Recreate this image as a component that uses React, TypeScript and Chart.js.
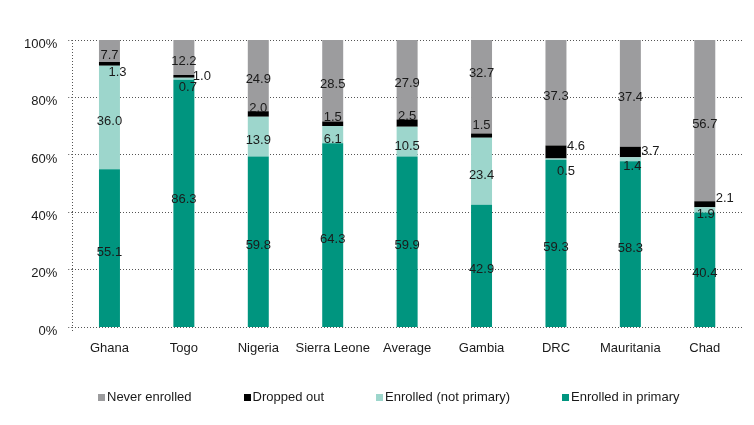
import React, { useEffect, useRef } from "react";
import { Chart, registerables } from "chart.js";

Chart.register(...registerables);

const categories = ["Ghana", "Togo", "Nigeria", "Sierra Leone", "Average", "Gambia", "DRC", "Mauritania", "Chad"];
const enrolledPrimary = [55.1, 86.3, 59.8, 64.3, 59.9, 42.9, 59.3, 58.3, 40.4];
const enrolledNotPrimary = [36.0, 0.7, 13.9, 6.1, 10.5, 23.4, 0.5, 1.4, 1.9];
const droppedOut = [1.3, 1.0, 2.0, 1.5, 2.5, 1.5, 4.6, 3.7, 2.1];
const neverEnrolled = [7.7, 12.2, 24.9, 28.5, 27.9, 32.7, 37.3, 37.4, 56.7];
const yTicks = [0, 20, 40, 60, 80, 100];

const seriesNames = ["Enrolled in primary", "Enrolled (not primary)", "Dropped out", "Never enrolled"];
const seriesColors = ["#00957f", "#9dd6cc", "#000000", "#9c9c9e"];

const FONT = "'Liberation Sans', Arial, Helvetica, sans-serif";
const TEXT = "#1a1a1a";
const GRID = "#555";

// label placement tweaks (dataset index : category index -> [dx, dy])
const labelShift: Record<string, [number, number]> = {
  "2:0": [8, 8],
  "1:1": [4, 9],
  "2:1": [18, 0],
  "0:1": [0, -4],
  "2:2": [0, -6],
  "2:3": [0, -6],
  "1:3": [0, 5],
  "2:4": [0, -7],
  "1:4": [0, 5],
  "3:5": [0, -13],
  "2:5": [0, -10],
  "2:6": [20, -5],
  "1:6": [10, 12],
  "2:7": [20, 0],
  "1:7": [2, 7],
  "2:8": [20, -6],
  "1:8": [1, 5],
};

const series = [enrolledPrimary, enrolledNotPrimary, droppedOut, neverEnrolled];
const totals = categories.map((_, j) => series.reduce((s, arr) => s + arr[j], 0));
const pct = (arr: number[]) => arr.map((v, j) => (v / totals[j]) * 100);

const valueLabels = {
  id: "valueLabels",
  afterDatasetsDraw(chart: any) {
    const ctx = chart.ctx;
    ctx.save();
    ctx.font = `13px ${FONT}`;
    ctx.fillStyle = TEXT;
    ctx.textAlign = "center";
    ctx.textBaseline = "middle";
    chart.data.datasets.forEach((ds: any, i: number) => {
      const meta = chart.getDatasetMeta(i);
      meta.data.forEach((bar: any, j: number) => {
        const raw = ds.rawValues[j];
        const shift = labelShift[`${i}:${j}`] || [0, 4];
        const cy = (bar.y + bar.base) / 2;
        ctx.fillText(raw.toFixed(1), bar.x + shift[0], cy + shift[1]);
      });
    });
    ctx.restore();
  },
};

export default function App() {
  const ref = useRef<HTMLCanvasElement | null>(null);
  useEffect(() => {
    if (!ref.current) return;
    const chart = new Chart(ref.current, {
      type: "bar",
      data: {
        labels: categories,
        datasets: series.map((arr, i) => ({
          label: seriesNames[i],
          data: pct(arr),
          rawValues: arr,
          backgroundColor: seriesColors[i],
        })) as any,
      },
      options: {
        responsive: true,
        maintainAspectRatio: false,
        animation: false,
        datasets: { bar: { barPercentage: 0.94, categoryPercentage: 0.3 } } as any,
        layout: { padding: { top: 32, left: 5, right: 4, bottom: 50 } },
        plugins: {
          legend: { display: false },
          tooltip: { enabled: false },
        },
        scales: {
          x: {
            stacked: true,
            grid: {
              display: true,
              offset: true,
              color: (c: any) => (c.index === 0 ? GRID : "rgba(0,0,0,0)"),
              drawTicks: true,
              tickLength: 4,
              tickBorderDash: [1, 2],
            } as any,
            border: { display: false, dash: [1, 2] },
            ticks: { color: TEXT, font: { family: FONT, size: 13 }, padding: 9, maxRotation: 0, autoSkip: false },
          },
          y: {
            stacked: true,
            min: 0,
            max: 100,
            afterBuildTicks: (axis: any) => {
              axis.ticks = yTicks.map((v) => ({ value: v }));
            },
            grid: { color: GRID, lineWidth: 1, drawTicks: true, tickLength: 4, tickBorderDash: [1, 2] } as any,
            border: { display: false, color: GRID, dash: [1, 2] },
            ticks: {
              color: TEXT,
              font: { family: FONT, size: 13 },
              padding: 11,
              labelOffset: 4,
              callback: (v: any) => `${v}%`,
            },
          },
        },
      },
      plugins: [valueLabels],
    });
    return () => chart.destroy();
  }, []);
  const legendOrder = [3, 2, 1, 0];
  return (
    <div style={{ position: "relative", width: 738, height: 407 }}>
      <canvas ref={ref} />
      <div
        style={{
          position: "absolute",
          top: 381,
          left: 90,
          display: "flex",
          gap: 52,
          fontFamily: FONT,
          fontSize: 13,
          lineHeight: "16px",
          color: TEXT,
          whiteSpace: "nowrap",
        }}
      >
        {legendOrder.map((i) => (
          <span key={i} style={{ display: "flex", alignItems: "center" }}>
            <span style={{ width: 7, height: 7, background: seriesColors[i], marginRight: 2, display: "inline-block" }} />
            {seriesNames[i]}
          </span>
        ))}
      </div>
    </div>
  );
}
